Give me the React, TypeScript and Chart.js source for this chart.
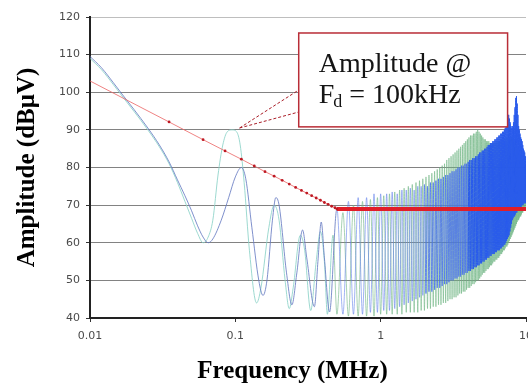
import { useEffect, useRef } from 'react';
import { Chart, registerables } from 'chart.js';

Chart.register(...registerables);

// ---------- data ----------
const X_TICKS = [0.01, 0.1, 1, 10];
const X_TICK_LABELS = ['0.01', '0.1', '1', '10'];
const Y_MIN = 40;
const Y_MAX = 120;
const Y_STEP = 10;

// Blue spectrum, low-frequency lobes [MHz, dBuV]
const blueLow: [number, number][] = [
  [0.01, 109.5], [0.012, 106.5], [0.0145, 102.5], [0.017, 99], [0.02, 95.5], [0.025, 90.5],
  [0.03, 86], [0.035, 81.5], [0.04, 76.7], [0.045, 72.5], [0.05, 68.5], [0.055, 64.5],
  [0.06, 61.5], [0.065, 60], [0.07, 61], [0.08, 66], [0.09, 72], [0.1, 77.5], [0.11, 80],
  [0.118, 77], [0.13, 64], [0.145, 50], [0.155, 46], [0.165, 50], [0.18, 66], [0.19, 72],
  [0.2, 70], [0.225, 52], [0.245, 43.5], [0.265, 52], [0.29, 63.4], [0.31, 56], [0.35, 43],
  [0.37, 55], [0.39, 65.5], [0.41, 56], [0.445, 41.6],
];

// Green spectrum, low-frequency lobes [MHz, dBuV]
const greenLow: [number, number][] = [
  [0.01, 109], [0.012, 106], [0.0145, 102], [0.017, 98.5], [0.02, 95], [0.025, 90],
  [0.03, 85.5], [0.035, 81], [0.04, 76], [0.045, 71], [0.05, 66.5], [0.055, 62.5],
  [0.06, 60], [0.065, 61.5], [0.07, 66], [0.076, 78], [0.082, 86], [0.088, 89.5],
  [0.095, 90], [0.102, 89.5], [0.108, 86], [0.115, 76], [0.125, 58], [0.14, 44],
  [0.15, 48], [0.17, 64], [0.185, 70], [0.2, 66], [0.22, 50], [0.235, 42.5], [0.25, 48],
  [0.28, 62], [0.3, 58], [0.33, 42], [0.36, 55], [0.385, 63], [0.41, 55], [0.43, 41],
  [0.47, 62], [0.5, 41],
];

// Harmonic lobe frequencies in the dense part (MHz)
const peakFreqMHz = [
  0.5, 0.6, 0.7, 0.8, 0.9, 1.0, 1.1, 1.2, 1.3, 1.4, 1.5, 1.6, 1.7, 1.8, 1.9, 2.0, 2.1, 2.2, 2.3, 2.4,
  2.5, 2.6, 2.7, 2.8, 2.9, 3.0, 3.1, 3.2, 3.3, 3.4, 3.5, 3.6, 3.7, 3.8, 3.9, 4.0, 4.1, 4.2, 4.3, 4.4,
  4.5, 4.6, 4.7, 4.8, 4.9, 5.0, 5.1, 5.2, 5.3, 5.4, 5.5, 5.6, 5.7, 5.8, 5.9, 6.0, 6.1, 6.2, 6.3, 6.4,
  6.5, 6.6, 6.7, 6.8, 6.9, 7.0, 7.1, 7.2, 7.3, 7.4, 7.5, 7.6, 7.7, 7.8, 7.9, 8.0, 8.1, 8.2, 8.3, 8.4,
  8.5, 8.6, 8.7, 8.8, 8.9, 9.0, 9.1, 9.2, 9.3, 9.4, 9.5, 9.6, 9.7, 9.8, 9.9, 10.0,
];
const troughFreqMHz = [
  0.55, 0.65, 0.75, 0.85, 0.95, 1.05, 1.15, 1.25, 1.35, 1.45, 1.55, 1.65, 1.75, 1.85, 1.95, 2.05,
  2.15, 2.25, 2.35, 2.45, 2.55, 2.65, 2.75, 2.85, 2.95, 3.05, 3.15, 3.25, 3.35, 3.45, 3.55, 3.65,
  3.75, 3.85, 3.95, 4.05, 4.15, 4.25, 4.35, 4.45, 4.55, 4.65, 4.75, 4.85, 4.95, 5.05, 5.15, 5.25,
  5.35, 5.45, 5.55, 5.65, 5.75, 5.85, 5.95, 6.05, 6.15, 6.25, 6.35, 6.45, 6.55, 6.65, 6.75, 6.85,
  6.95, 7.05, 7.15, 7.25, 7.35, 7.45, 7.55, 7.65, 7.75, 7.85, 7.95, 8.05, 8.15, 8.25, 8.35, 8.45,
  8.55, 8.65, 8.75, 8.85, 8.95, 9.05, 9.15, 9.25, 9.35, 9.45, 9.55, 9.65, 9.75, 9.85, 9.95,
];

// Blue lobe peaks (at peakFreqMHz) and nulls (at troughFreqMHz), dBuV
const bluePeakDb = [
  69, 71, 72, 72, 73, 73, 73, 73.5, 73, 74, 74, 74.5, 74, 75, 75, 75.5, 75, 76, 76, 76.5,
  77, 77, 77.5, 78, 78, 78.5, 79, 79, 79.5, 80, 80, 80.5, 80.5, 81, 81, 81.5, 82, 82, 82.5, 82.5,
  83, 83, 83.5, 84, 84, 84.5, 84.5, 85, 85, 85.5, 86, 86, 86.5, 86.5, 87, 87, 87.5, 87.5, 88, 88,
  88.5, 88.5, 89, 89, 89.5, 89.5, 90, 90.5, 91, 92, 93, 94, 93, 92, 91, 90.5, 91, 92, 94, 96,
  98.5, 99, 97, 94, 91, 90, 89, 88, 87.5, 87, 86, 85, 84.5, 84, 83, 82,
];
const blueTroughDb = [
  41, 41, 41, 41.5, 41.5, 42, 42, 42.5, 43, 43.5, 44, 44.5, 45, 45.5, 46, 46.5,
  47, 47, 47.5, 48, 48, 48.5, 49, 49, 49.5, 50, 50, 50.5, 50.5, 51, 51, 51.5,
  51.5, 52, 52, 52.5, 52.5, 53, 53, 53.5, 53.5, 54, 54, 54.5, 54.5, 55, 55, 55.5,
  55.5, 56, 56, 56.5, 56.5, 57, 57, 57, 57.5, 57.5, 58, 58, 58, 58.5, 58.5, 59,
  59, 59.5, 59.5, 60, 60.5, 61, 61.5, 62, 63, 64, 65, 66, 66.5, 67, 67, 67.5,
  68, 68, 68.5, 68.5, 69, 69, 69.5, 69.5, 70, 70, 70, 70.5, 70.5, 70.5, 70.5,
];

// Green lobe peaks (at troughFreqMHz) and nulls (at peakFreqMHz from 0.6), dBuV
const greenPeakDb = [
  68, 70, 71, 71.5, 72, 72.5, 73, 73.5, 74, 74.5, 75, 75.5, 76, 76.5, 77, 77.5,
  78, 78.5, 79, 79.5, 80, 80.5, 81, 82, 82.5, 83, 83.5, 84, 84.5, 85, 85.5, 86,
  86.5, 87, 87.5, 88, 88.5, 88.5, 89, 89, 89.5, 90, 89.5, 89, 88.5, 88, 87.5, 87.5,
  87, 87, 87, 86.5, 86.5, 86.5, 86.5, 86.5, 86.5, 87, 87, 87, 87, 87, 87, 87.5,
  87.5, 87.5, 87.5, 88, 88, 88, 88, 88, 88, 88, 88, 88, 87.5, 87.5, 87, 87,
  86.5, 86, 85.5, 85, 84.5, 84, 83.5, 83, 82.5, 82, 81.5, 81, 80.5, 80, 79.5,
];
const greenTroughDb = [
  40.5, 40.5, 40.5, 40.5, 41, 41, 41, 41, 41, 41.5, 41.5, 41.5, 41.5, 42, 42, 42.5,
  42.5, 43, 43, 43.5, 43.5, 44, 44, 44.5, 45, 45, 45.5, 45.5, 46, 46.5, 46.5, 47,
  47, 47.5, 48, 48, 48.5, 49, 49, 49.5, 50, 50, 50.5, 51, 51.5, 52, 52, 52.5,
  53, 53, 53.5, 54, 54, 54.5, 55, 55, 55.5, 55.5, 56, 56, 56.5, 57, 57, 57.5,
  58, 58, 58.5, 59, 59, 59.5, 60, 60.5, 61, 61.5, 62, 62.5, 63, 63.5, 64, 64.5,
  65, 65.5, 66, 66, 66.5, 67, 67, 67.5, 68, 68, 68.5, 69, 69, 69.5, 70,
];

// Red 1/f envelope with markers, then flat level
const redSlopeFreqMHz = [
  0.01, 0.035, 0.06, 0.085, 0.11, 0.135, 0.16, 0.185, 0.21, 0.235, 0.26, 0.285, 0.31, 0.335,
  0.36, 0.385, 0.41, 0.435, 0.46, 0.485, 0.5,
];
const redSlopeDb = [
  103, 92.1, 87.4, 84.4, 82.2, 80.4, 78.9, 77.7, 76.6, 75.6, 74.7, 73.9, 73.2, 72.5,
  71.9, 71.3, 70.7, 70.2, 69.7, 69.3, 69,
];
const redFlatFreqMHz = [0.5, 10];
const redFlatDb = [69, 69];

// Annotation
const NOTE_LINE1 = 'Amplitude @';
const NOTE_F = 'F';
const NOTE_SUB = 'd';
const NOTE_REST = ' = 100kHz';
const BOX_LEFT_MHZ = 0.273;
const BOX_RIGHT_MHZ = 7.47;
const BOX_TOP_DB = 115.75;
const BOX_BOTTOM_DB = 90.8;
const CALLOUT_TARGET: [number, number] = [0.107, 90.5];
const CALLOUT_ENDS_DB = [100.6, 94.75];

const X_TITLE = 'Frequency (MHz)';
const Y_TITLE = 'Amplitude (dBμV)';

// ---------- build ----------
function pairs(list: [number, number][]) {
  return list.map(([x, y]) => ({ x, y }));
}
const bluePoints = [
  ...pairs(blueLow),
  ...peakFreqMHz.flatMap((f, i) =>
    i < troughFreqMHz.length
      ? [{ x: f, y: bluePeakDb[i] }, { x: troughFreqMHz[i], y: blueTroughDb[i] }]
      : [{ x: f, y: bluePeakDb[i] }]
  ),
];
const greenPoints = [
  ...pairs(greenLow),
  ...troughFreqMHz.flatMap((f, i) => [
    { x: f, y: greenPeakDb[i] },
    { x: peakFreqMHz[i + 1], y: greenTroughDb[i] },
  ]),
];
const redSlope = redSlopeFreqMHz.map((x, i) => ({ x, y: redSlopeDb[i] }));
const redFlat = redFlatFreqMHz.map((x, i) => ({ x, y: redFlatDb[i] }));

const decorPlugin = {
  id: 'decor',
  afterDatasetsDraw(chart: any) {
    const { ctx, scales, chartArea } = chart;
    const xs = scales.x;
    const ys = scales.y;
    const l = xs.getPixelForValue(BOX_LEFT_MHZ);
    const r = xs.getPixelForValue(BOX_RIGHT_MHZ);
    const t = ys.getPixelForValue(BOX_TOP_DB);
    const b = ys.getPixelForValue(BOX_BOTTOM_DB);
    const tx = xs.getPixelForValue(CALLOUT_TARGET[0]);
    const ty = ys.getPixelForValue(CALLOUT_TARGET[1]);
    ctx.save();
    ctx.strokeStyle = 'rgb(170,30,40)';
    ctx.lineWidth = 1;
    ctx.setLineDash([3, 2]);
    ctx.beginPath();
    CALLOUT_ENDS_DB.forEach((d) => {
      ctx.moveTo(tx, ty);
      ctx.lineTo(l, ys.getPixelForValue(d));
    });
    ctx.stroke();
    ctx.setLineDash([]);
    ctx.fillStyle = '#ffffff';
    ctx.fillRect(l, t, r - l, b - t);
    ctx.strokeStyle = 'rgb(185,45,55)';
    ctx.lineWidth = 1.5;
    ctx.strokeRect(l, t, r - l, b - t);
    ctx.fillStyle = '#151515';
    ctx.textAlign = 'left';
    ctx.textBaseline = 'alphabetic';
    ctx.font = '28px "Liberation Serif"';
    ctx.fillText(NOTE_LINE1, l + 20, t + 39);
    const base2 = t + 70;
    ctx.fillText(NOTE_F, l + 20, base2);
    const fw = ctx.measureText(NOTE_F).width;
    ctx.font = '18px "Liberation Serif"';
    ctx.fillText(NOTE_SUB, l + 20 + fw - 1, base2 + 4);
    const sw = ctx.measureText(NOTE_SUB).width;
    ctx.font = '28px "Liberation Serif"';
    ctx.fillText(NOTE_REST, l + 20 + fw - 1 + sw, base2);

    // axis titles
    ctx.font = 'bold 25px "Liberation Serif"';
    ctx.fillStyle = '#000000';
    ctx.textAlign = 'center';
    ctx.textBaseline = 'alphabetic';
    ctx.fillText(X_TITLE, chartArea.left + 202.5, chartArea.bottom + 60);
    ctx.translate(chartArea.left - 62.5, (chartArea.top + chartArea.bottom) / 2);
    ctx.rotate(-Math.PI / 2);
    ctx.textBaseline = 'middle';
    ctx.fillText(Y_TITLE, 0, 0);
    ctx.restore();
  },
};

export default function App() {
  const ref = useRef<HTMLCanvasElement | null>(null);
  useEffect(() => {
    if (!ref.current) return;
    const tickFont = { family: '"DejaVu Sans", sans-serif', size: 11 };
    const chart = new Chart(ref.current, {
      type: 'line',
      data: {
        datasets: [
          {
            label: 'Envelope',
            data: redSlope,
            borderColor: 'rgba(235,100,100,0.8)',
            borderWidth: 1,
            pointRadius: (c: any) => (c.dataIndex === 0 ? 0 : 1.4),
            pointBackgroundColor: 'rgb(190,25,35)',
            pointBorderWidth: 0,
            order: 1,
          },
          {
            label: 'Level',
            data: redFlat,
            borderColor: 'rgb(225,30,40)',
            borderWidth: 4,
            pointRadius: 0,
            order: 1,
          },
          {
            label: 'Blue',
            data: bluePoints,
            borderWidth: 1,
            pointRadius: 0,
            cubicInterpolationMode: 'monotone',
            borderColor: 'rgb(45,95,235)',
            segment: {
              borderColor: (c: any) => {
                const f = c.p0.parsed.x;
                if (f < 0.45) return 'rgba(105,125,195,0.85)';
                if (f < 2) return 'rgba(100,130,235,0.6)';
                if (f < 4) return 'rgba(70,110,235,0.8)';
                return 'rgb(40,90,235)';
              },
            },
            order: 2,
          },
          {
            label: 'Green',
            data: greenPoints,
            borderWidth: 1,
            pointRadius: 0,
            cubicInterpolationMode: 'monotone',
            borderColor: 'rgba(110,180,130,0.6)',
            segment: {
              borderColor: (c: any) =>
                c.p0.parsed.x < 0.45 ? 'rgba(140,210,200,0.85)' : 'rgba(110,180,130,0.6)',
            },
            order: 3,
          },
        ],
      },
      options: {
        animation: false,
        responsive: true,
        maintainAspectRatio: false,
        events: [],
        layout: { padding: { top: 17, right: 14, left: 0, bottom: 0 } },
        plugins: { legend: { display: false }, tooltip: { enabled: false } },
        scales: {
          x: {
            type: 'logarithmic',
            min: X_TICKS[0],
            max: X_TICKS[X_TICKS.length - 1],
            afterBuildTicks: (s: any) => {
              s.ticks = X_TICKS.map((v) => ({ value: v }));
            },
            afterFit: (s: any) => {
              s.height = 65;
              s.paddingLeft = 0;
              s.paddingRight = 0;
            },
            ticks: {
              autoSkip: false,
              maxRotation: 0,
              font: tickFont,
              color: '#4a4a4a',
              padding: 8,
              callback: (v: any) => {
                const i = X_TICKS.indexOf(Number(v));
                return i >= 0 ? X_TICK_LABELS[i] : '';
              },
            },
            grid: { drawOnChartArea: false, drawTicks: true, tickLength: 4, tickColor: '#333' },
            border: { display: true, color: '#222', width: 2 },
          },
          y: {
            type: 'linear',
            min: Y_MIN,
            max: Y_MAX,
            afterFit: (s: any) => {
              s.width = 90;
              s.paddingTop = 0;
              s.paddingBottom = 0;
            },
            ticks: { stepSize: Y_STEP, font: tickFont, color: '#4a4a4a', padding: 6 },
            grid: {
              color: (c: any) => (c.tick && c.tick.value === Y_MAX ? 'rgb(190,190,190)' : 'rgb(130,130,130)'),
              lineWidth: 1,
              tickLength: 4,
              tickColor: '#333',
            },
            border: { display: true, color: '#222', width: 2 },
          },
        },
      } as any,
      plugins: [decorPlugin],
    });
    return () => chart.destroy();
  }, []);

  return (
    <div style={{ position: 'fixed', left: 0, top: 0, width: 528, height: 383, overflow: 'hidden', background: '#fff' }}>
      <div style={{ position: 'relative', width: 540, height: 383 }}>
        <canvas ref={ref} />
      </div>
    </div>
  );
}
